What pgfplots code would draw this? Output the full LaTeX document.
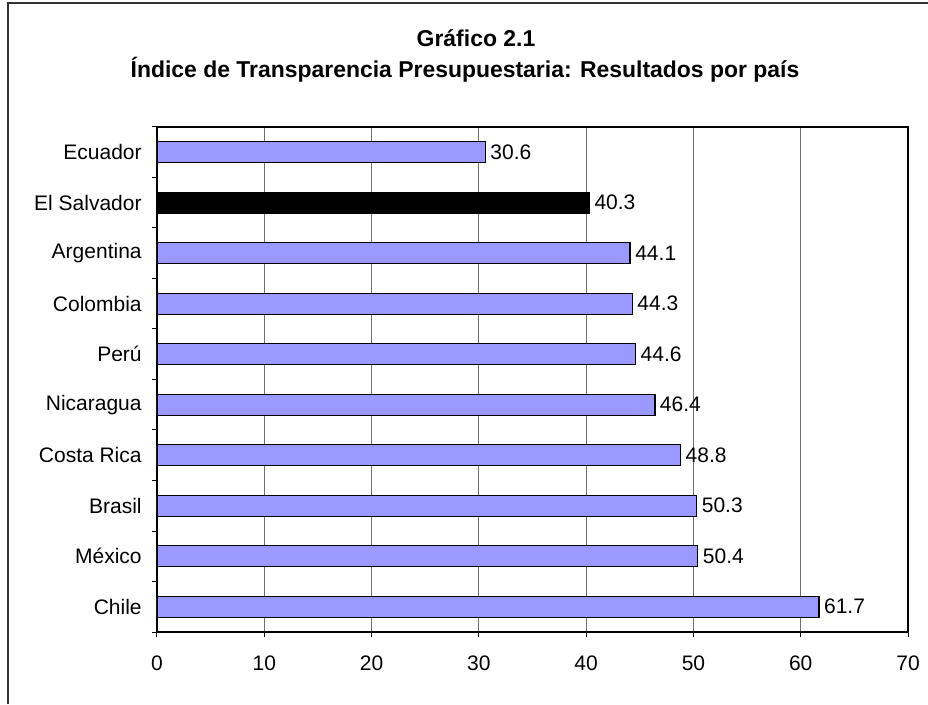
\documentclass[border=0pt]{standalone}
\usepackage{fontspec}
\setmainfont{Liberation Sans}
\usepackage{pgfplots}
\pgfplotsset{compat=1.18}
\definecolor{barblue}{HTML}{9999FF}
\definecolor{gridgray}{HTML}{707070}
\begin{document}
\begin{tikzpicture}
\path[use as bounding box] (0,0) rectangle (696pt,528pt);
\draw[line width=1.5pt, black!80] (6pt,0) -- (6pt,525.4pt) -- (696pt,525.4pt);
\node[font=\bfseries\fontsize{17.2}{20}\selectfont] at (357pt,499.5pt) {Gráfico 2.1};
\node[font=\bfseries\fontsize{17.2}{20}\selectfont] at (348.75pt,475.5pt) {Índice de Transparencia Presupuestaria: Resultados por país};
\begin{axis}[
  at={(117.75pt,54pt)}, anchor=south west,
  scale only axis, width=563.25pt, height=378.75pt,
  xbar, bar width=15.75pt, bar shift=0pt,
  xmin=0, xmax=70, ymin=-0.5, ymax=9.5,
  xtick={0,10,...,70},
  ytick={-0.5,0.5,...,9.5},
  yticklabels={,,,,,,,,,,,},
  extra y ticks={0,1,2,3,4,5,6,7,8,9},
  extra y tick labels={Chile,México,Brasil,Costa Rica,Nicaragua,Perú,Colombia,Argentina,El Salvador,Ecuador},
  extra y tick style={tick style={draw=none}, grid=none},
  tick pos=left,
  tick align=outside, major tick length=4pt,
  tick style={black, line width=0.75pt},
  axis line style={line width=1.2pt},
  xmajorgrids, grid style={gridgray, line width=0.8pt},
  /pgf/number format/assume math mode=true,
  ticklabel style={font=\fontsize{15.75}{18}\selectfont},
  xticklabel style={yshift=-10pt},
  yticklabel style={xshift=-4pt},
  point meta=x,
  nodes near coords,
  every node near coord/.append style={anchor=west, black, font=\fontsize{15.75}{18}\selectfont,
    /pgf/number format/fixed, /pgf/number format/fixed zerofill, /pgf/number format/precision=1},
]
\addplot[fill=barblue, draw=black, line width=1.1pt] coordinates {
 (61.7,0) (50.4,1) (50.3,2) (48.8,3) (46.4,4) (44.6,5) (44.3,6) (44.1,7) (30.6,9)};
\addplot[fill=black, draw=black, line width=1.1pt] coordinates {(40.3,8)};
\end{axis}
\end{tikzpicture}
\end{document}
